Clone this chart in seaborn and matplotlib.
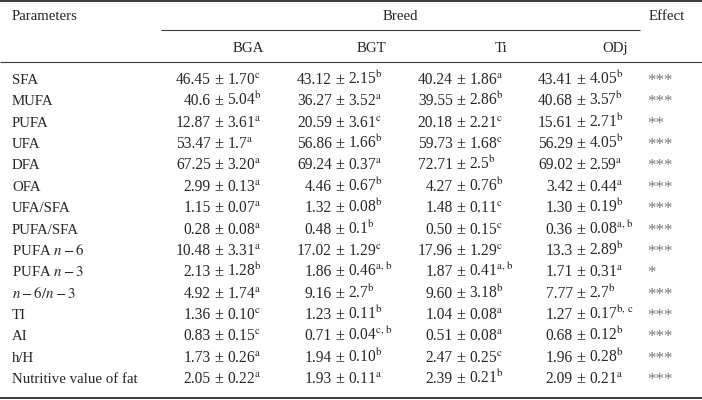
import matplotlib
matplotlib.use("Agg")
import matplotlib.pyplot as plt
import seaborn as sns

# -----------------------------------------------------------------------------
# data
# -----------------------------------------------------------------------------
parameters = ["SFA", "MUFA", "PUFA", "UFA", "DFA", "OFA", "UFA/SFA", "PUFA/SFA",
              "PUFA $n-6$", "PUFA $n-3$", "$n-6/n-3$", "TI", "AI", "h/H",
              "Nutritive value of fat"]
breeds = ["BGA", "BGT", "Ti", "ODj"]

bga_mean = ["46.45", "40.6", "12.87", "53.47", "67.25", "2.99", "1.15", "0.28",
            "10.48", "2.13", "4.92", "1.36", "0.83", "1.73", "2.05"]
bga_sd = ["1.70", "5.04", "3.61", "1.7", "3.20", "0.13", "0.07", "0.08",
          "3.31", "1.28", "1.74", "0.10", "0.15", "0.26", "0.22"]
bga_sig = ["c", "b", "a", "a", "a", "a", "a", "a", "a", "b", "a", "c", "c", "a", "a"]

bgt_mean = ["43.12", "36.27", "20.59", "56.86", "69.24", "4.46", "1.32", "0.48",
            "17.02", "1.86", "9.16", "1.23", "0.71", "1.94", "1.93"]
bgt_sd = ["2.15", "3.52", "3.61", "1.66", "0.37", "0.67", "0.08", "0.1",
          "1.29", "0.46", "2.7", "0.11", "0.04", "0.10", "0.11"]
bgt_sig = ["b", "a", "c", "b", "a", "b", "b", "b", "c", "a, b", "b", "b", "c, b", "b", "a"]

ti_mean = ["40.24", "39.55", "20.18", "59.73", "72.71", "4.27", "1.48", "0.50",
           "17.96", "1.87", "9.60", "1.04", "0.51", "2.47", "2.39"]
ti_sd = ["1.86", "2.86", "2.21", "1.68", "2.5", "0.76", "0.11", "0.15",
         "1.29", "0.41", "3.18", "0.08", "0.08", "0.25", "0.21"]
ti_sig = ["a", "b", "c", "c", "b", "b", "c", "c", "c", "a, b", "b", "a", "a", "c", "b"]

odj_mean = ["43.41", "40.68", "15.61", "56.29", "69.02", "3.42", "1.30", "0.36",
            "13.3", "1.71", "7.77", "1.27", "0.68", "1.96", "2.09"]
odj_sd = ["4.05", "3.57", "2.71", "4.05", "2.59", "0.44", "0.19", "0.08",
          "2.89", "0.31", "2.7", "0.17", "0.12", "0.28", "0.21"]
odj_sig = ["b", "b", "b", "b", "a", "a", "b", "a, b", "b", "a", "b", "b, c", "b", "b", "a"]

effect = ["***", "***", "**", "***", "***", "***", "***", "***", "***", "*",
          "***", "***", "***", "***", "***"]

# -----------------------------------------------------------------------------
# style
# -----------------------------------------------------------------------------
sns.set_theme(style="white")
plt.rcParams["font.family"] = ["Liberation Serif", "DejaVu Serif"]
plt.rcParams["mathtext.fontset"] = "stix"

fs = 10.7      # labels
fs_num = 11.2  # numbers in the cells
rule_col = "#3a3a3a"

fig = plt.figure(figsize=(7.02, 4.0), dpi=100)
ax = fig.add_axes([0, 0, 1, 1])
ax.set_xlim(0, 702)
ax.set_ylim(400, 0)
ax.axis("off")

# rules
ax.plot([0, 702], [1, 1], color=rule_col, lw=1.4, solid_capstyle="butt")
ax.plot([161, 640], [30, 30], color=rule_col, lw=0.8, solid_capstyle="butt")
ax.plot([0, 702], [62, 62], color=rule_col, lw=0.8, solid_capstyle="butt")
ax.plot([0, 702], [397.5, 397.5], color=rule_col, lw=1.4, solid_capstyle="butt")

# header
ax.text(12, 20, "Parameters", fontsize=fs, ha="left", va="baseline")
ax.text(400, 20, "Breed", fontsize=fs, ha="center", va="baseline")
ax.text(649, 20, "Effect", fontsize=fs, ha="left", va="baseline")
head_right = [264, 386, 507, 628]
for name, xr in zip(breeds, head_right):
    ax.text(xr, 52, name, fontsize=fs, ha="right", va="baseline")

# body: cells aligned on the plus-minus sign
pm_x = [219, 340, 461, 581]
cols = [(bga_mean, bga_sd, bga_sig), (bgt_mean, bgt_sd, bgt_sig),
        (ti_mean, ti_sd, ti_sig), (odj_mean, odj_sd, odj_sig)]
y0, dy = 79, 21.36

for i, p in enumerate(parameters):
    yb = y0 + i * dy + 5
    ax.text(12, yb, p, fontsize=fs, ha="left", va="baseline")
    for (mean, sd, sig), xc in zip(cols, pm_x):
        ax.text(xc - 8, yb, mean[i], fontsize=fs_num, ha="right", va="baseline")
        ax.text(xc, yb, "\u00b1", fontsize=fs_num + 0.5, ha="center", va="baseline")
        sup = sig[i].replace(" ", r"\,")
        ax.text(xc + 8, yb, sd[i] + r"$^{\mathrm{" + sup + "}}$",
                fontsize=fs_num, ha="left", va="baseline")
    ax.text(647, yb + 1, effect[i], fontsize=fs + 1.5, ha="left", va="baseline",
            color="#777777")

plt.savefig("out.png", dpi=100)
